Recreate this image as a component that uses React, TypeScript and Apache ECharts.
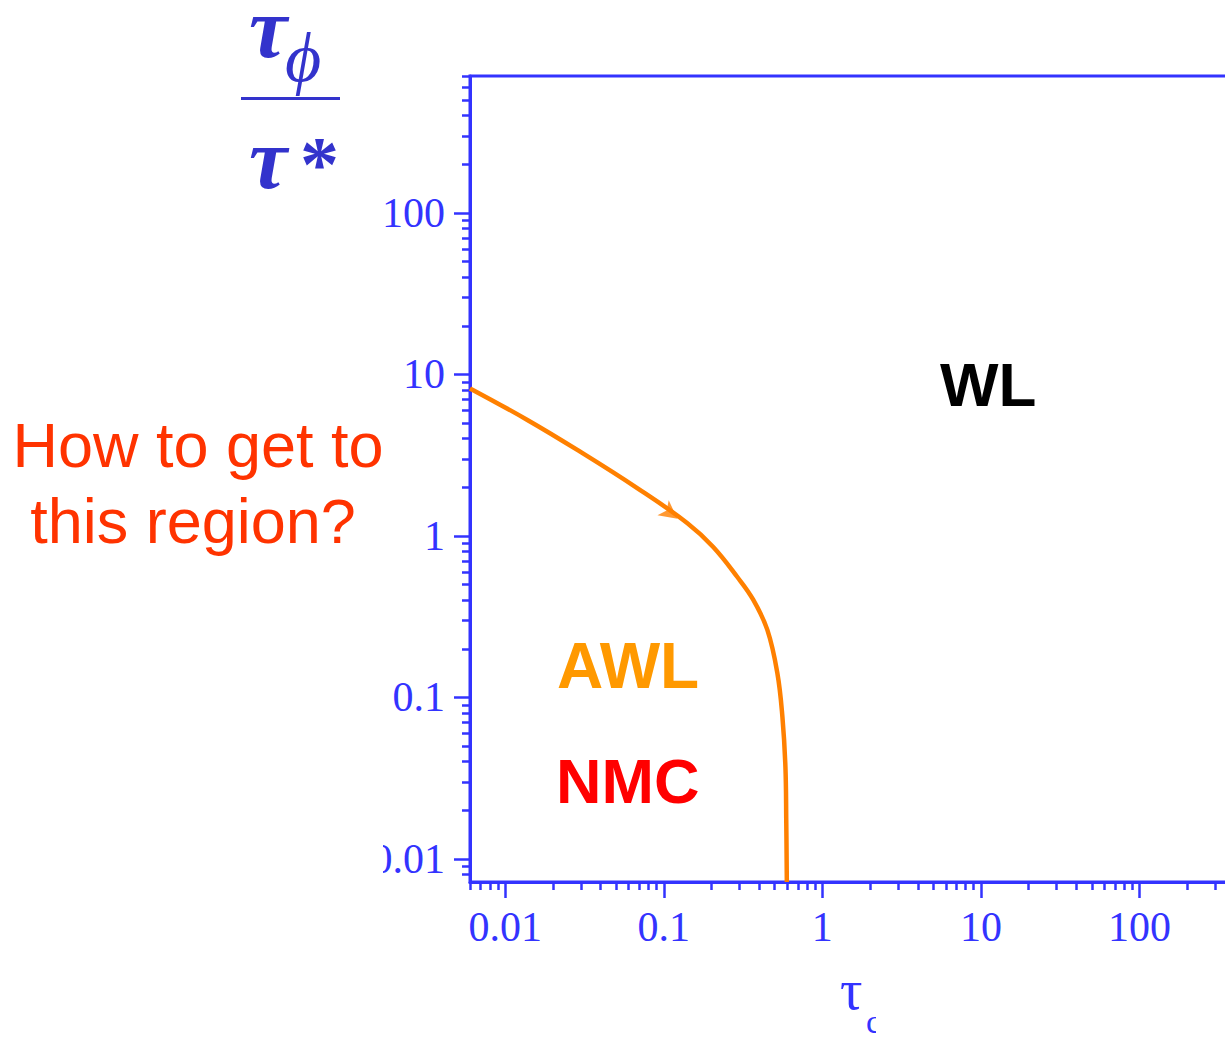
import React, { useEffect, useRef } from "react";
import * as echarts from "echarts";

// Axis extents (log scales)
const X_MIN = 0.006;
const X_MAX = 400;
const Y_MIN = 0.0072;
const Y_MAX = 705;

// Decade ticks and their labels
const X_MAJOR = [0.01, 0.1, 1, 10, 100];
const X_MAJOR_LABELS = ["0.01", "0.1", "1", "10", "100"];
const Y_MAJOR = [0.01, 0.1, 1, 10, 100];
const Y_MAJOR_LABELS = ["0.01", "0.1", "1", "10", "100"];

// Minor ticks inside each decade
const X_MINOR = [
  0.006, 0.007, 0.008, 0.009,
  0.02, 0.03, 0.04, 0.05, 0.06, 0.07, 0.08, 0.09,
  0.2, 0.3, 0.4, 0.5, 0.6, 0.7, 0.8, 0.9,
  2, 3, 4, 5, 6, 7, 8, 9,
  20, 30, 40, 50, 60, 70, 80, 90,
  200, 300,
];
const Y_MINOR = [
  0.008, 0.009,
  0.02, 0.03, 0.04, 0.05, 0.06, 0.07, 0.08, 0.09,
  0.2, 0.3, 0.4, 0.5, 0.6, 0.7, 0.8, 0.9,
  2, 3, 4, 5, 6, 7, 8, 9,
  20, 30, 40, 50, 60, 70, 80, 90,
  200, 300, 400, 500, 600, 700,
];

// Crossover boundary between the AWL/NMC and WL regimes
const BOUNDARY_TAU_C = [0.006, 0.0138, 0.0285, 0.068, 0.141, 0.205, 0.291, 0.367, 0.45, 0.52, 0.56, 0.585, 0.592, 0.597];
const BOUNDARY_RATIO = [8.2, 5.23, 3.41, 1.98, 1.2, 0.855, 0.557, 0.402, 0.262, 0.142, 0.0757, 0.0371, 0.0174, 0.0072];

// Arrowhead sitting on the boundary
const ARROW_AT = [0.122, 1.28];

const AXIS_BLUE = "#3333FF";
const TITLE_BLUE = "#3333CC";
const SERIF = "'Liberation Serif', 'Times New Roman', serif";
const SANS = "'Liberation Sans', Arial, Helvetica, sans-serif";

function pickLabel(values: number[], labels: string[], v: number): string {
  let best = 0;
  for (let i = 1; i < values.length; i++) {
    if (Math.abs(Math.log10(values[i]) - Math.log10(v)) < Math.abs(Math.log10(values[best]) - Math.log10(v))) best = i;
  }
  return labels[best];
}

function txt(x: number, y: number, text: string, opts: any) {
  const align = opts.align || "left";
  const style: any = {
    text,
    fontFamily: opts.fontFamily || SANS,
    fontSize: opts.fontSize,
    fontWeight: opts.fontWeight || "normal",
    fontStyle: opts.fontStyle || "normal",
    fill: opts.fill,
    align,
    textAlign: align,
    verticalAlign: "middle",
    textVerticalAlign: "middle",
  };
  if (opts.lineHeight) style.lineHeight = opts.lineHeight;
  return { type: "text", x, y, z: 50, style };
}

export default function App() {
  const ref = useRef<HTMLDivElement>(null);

  useEffect(() => {
    if (!ref.current) return;
    const chart = echarts.init(ref.current, null, { renderer: "svg" });

    const boundary = BOUNDARY_TAU_C.map((x, i) => [x, BOUNDARY_RATIO[i]]);

    const majorTick = { show: true, inside: false, length: 16, lineStyle: { color: AXIS_BLUE, width: 2.5 } };
    const minorTick = { show: true, inside: false, length: 8, lineStyle: { color: AXIS_BLUE, width: 2.5 } };

    chart.setOption({
      animation: false,
      backgroundColor: "#ffffff",
      grid: {
        left: 470,
        top: 76,
        right: -10,
        bottom: 155,
        show: true,
        borderColor: AXIS_BLUE,
        borderWidth: 3,
        backgroundColor: "transparent",
        outerBoundsMode: "none",
      },
      xAxis: [
        {
          type: "log",
          logBase: 10,
          min: X_MIN,
          max: X_MAX,
          position: "bottom",
          axisLine: { show: true, lineStyle: { color: AXIS_BLUE, width: 3 } },
          axisTick: { ...majorTick, customValues: X_MAJOR },
          axisLabel: {
            customValues: X_MAJOR,
            formatter: (v: number) => pickLabel(X_MAJOR, X_MAJOR_LABELS, v),
            fontFamily: SERIF,
            fontSize: 42,
            color: AXIS_BLUE,
            margin: 24,
          },
          splitLine: { show: false },
          minorTick: { show: false },
          minorSplitLine: { show: false },
        },
        {
          type: "log",
          logBase: 10,
          min: X_MIN,
          max: X_MAX,
          position: "bottom",
          axisLine: { show: false },
          axisTick: { ...minorTick, customValues: X_MINOR },
          axisLabel: { show: false },
          splitLine: { show: false },
        },
      ],
      yAxis: [
        {
          type: "log",
          logBase: 10,
          min: Y_MIN,
          max: Y_MAX,
          position: "left",
          axisLine: { show: true, lineStyle: { color: AXIS_BLUE, width: 3 } },
          axisTick: { ...majorTick, customValues: Y_MAJOR },
          axisLabel: {
            customValues: Y_MAJOR,
            formatter: (v: number) => pickLabel(Y_MAJOR, Y_MAJOR_LABELS, v),
            fontFamily: SERIF,
            fontSize: 42,
            color: AXIS_BLUE,
            margin: 25,
          },
          splitLine: { show: false },
          minorTick: { show: false },
          minorSplitLine: { show: false },
        },
        {
          type: "log",
          logBase: 10,
          min: Y_MIN,
          max: Y_MAX,
          position: "left",
          axisLine: { show: false },
          axisTick: { ...minorTick, customValues: Y_MINOR },
          axisLabel: { show: false },
          splitLine: { show: false },
        },
      ],
      series: [
        {
          type: "line",
          xAxisIndex: 0,
          yAxisIndex: 0,
          data: boundary,
          symbol: "none",
          smooth: 0.4,
          lineStyle: { color: "#FF8000", width: 4.5 },
          z: 5,
        },
        {
          type: "scatter",
          xAxisIndex: 0,
          yAxisIndex: 0,
          data: [ARROW_AT],
          symbol: "arrow",
          symbolSize: [14, 18],
          symbolRotate: -127,
          itemStyle: { color: "#FF8000" },
          z: 6,
        },
      ],
      graphic: [
        // y-axis title: tau_phi / tau*
        txt(249, 28, "τ", { fontFamily: SERIF, fontStyle: "italic", fontWeight: "bold", fontSize: 86, fill: TITLE_BLUE, lineHeight: 56 }),
        txt(285, 57, "ϕ", { fontFamily: SERIF, fontStyle: "italic", fontSize: 70, fill: TITLE_BLUE, lineHeight: 70 }),
        { type: "rect", z: 50, shape: { x: 241, y: 97, width: 99, height: 3 }, style: { fill: TITLE_BLUE } },
        txt(249, 159, "τ", { fontFamily: SERIF, fontStyle: "italic", fontWeight: "bold", fontSize: 86, fill: TITLE_BLUE, lineHeight: 60 }),
        txt(300, 163, "*", { fontFamily: SERIF, fontWeight: "bold", fontSize: 78, fill: TITLE_BLUE, lineHeight: 60 }),
        // x-axis title: tau_c
        txt(840, 990, "τ", { fontFamily: SERIF, fontSize: 56, fill: AXIS_BLUE }),
        txt(866, 1021, "c", { fontFamily: SERIF, fontSize: 34, fill: AXIS_BLUE, lineHeight: 28 }),
        { type: "rect", z: 60, shape: { x: 876, y: 1004, width: 60, height: 40 }, style: { fill: "#ffffff" } },
        // left margin mask
        { type: "rect", z: 60, shape: { x: 0, y: 832, width: 383, height: 56 }, style: { fill: "#ffffff" } },
        // region annotations
        txt(198, 445, "How to get to", { fontSize: 63, fill: "#FF3300", align: "center" }),
        txt(193, 521, "this region?", { fontSize: 63, fill: "#FF3300", align: "center" }),
        txt(940, 384, "WL", { fontSize: 62, fontWeight: "bold", fill: "#000000" }),
        txt(557, 666, "AWL", { fontSize: 64, fontWeight: "bold", fill: "#FF9900" }),
        txt(556, 781, "NMC", { fontSize: 63, fontWeight: "bold", fill: "#FF0000" }),
      ],
    });

    return () => chart.dispose();
  }, []);

  return (
    <div
      ref={ref}
      style={{ position: "fixed", left: 0, top: 0, width: 1225, height: 1037, background: "#ffffff" }}
    />
  );
}
